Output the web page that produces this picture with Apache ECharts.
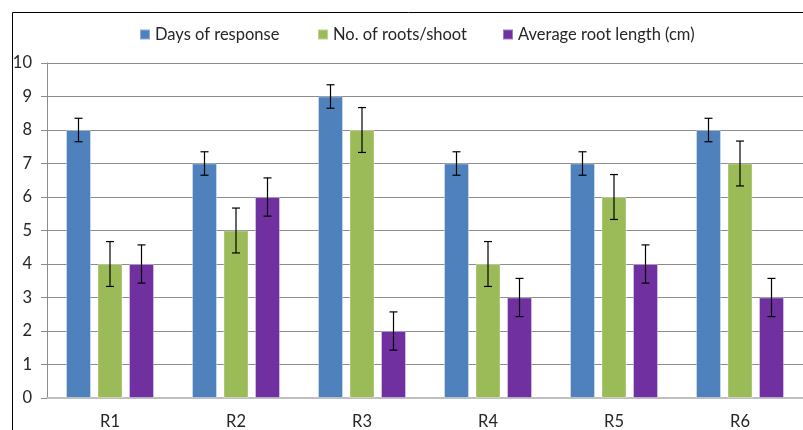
<!DOCTYPE html>
<html>
<head>
<meta charset="utf-8">
<script src="https://cdn.jsdelivr.net/npm/echarts@6/dist/echarts.min.js"></script>
<style>html,body{margin:0;padding:0;background:#fff;}#c{width:803px;height:430px;}</style>
</head>
<body>
<div id="c"></div>
<script>
const categories = ['R1', 'R2', 'R3', 'R4', 'R5', 'R6'];
const seriesNames = ['Days of response', 'No. of roots/shoot', 'Average root length (cm)'];
const daysOfResponse = [8, 7, 9, 7, 7, 8];
const rootsPerShoot = [4, 5, 8, 4, 6, 7];
const avgRootLength = [4, 6, 2, 3, 4, 3];
const daysErr = [0.35, 0.35, 0.35, 0.35, 0.35, 0.35];
const rootsErr = [0.67, 0.67, 0.67, 0.67, 0.67, 0.67];
const lengthErr = [0.57, 0.57, 0.57, 0.57, 0.57, 0.57];
const yTicks = [0, 1, 2, 3, 4, 5, 6, 7, 8, 9, 10];

const colors = ['#4F81BD', '#9BBB59', '#7030A0'];
const values = [daysOfResponse, rootsPerShoot, avgRootLength];
const errs = [daysErr, rootsErr, lengthErr];
const BAR_W = 25, BAR_GAP = 6.5;
const FONT = 'Lato';

const chart = echarts.init(document.getElementById('c'), null, {renderer: 'canvas'});

const series = [];
values.forEach((v, i) => {
  series.push({
    name: seriesNames[i], type: 'bar', data: v, barWidth: BAR_W, barGap: (BAR_GAP / BAR_W * 100) + '%',
    itemStyle: {color: colors[i], borderColor: 'rgba(255,255,255,0.35)', borderWidth: 1},
    z: 2
  });
});
values.forEach((v, i) => {
  const offset = (i - 1) * (BAR_W + BAR_GAP);
  series.push({
    type: 'custom', name: seriesNames[i] + ' err', z: 5, silent: true,
    data: v.map((val, k) => [k, val, errs[i][k]]),
    encode: {x: 0, y: 1},
    renderItem: function (params, api) {
      const c = api.value(0), val = api.value(1), e = api.value(2);
      const pTop = api.coord([c, val + e]);
      const pBot = api.coord([c, val - e]);
      const x = pTop[0] + offset;
      const cap = 4;
      const st = {stroke: '#000', lineWidth: 1.2};
      return {type: 'group', children: [
        {type: 'line', shape: {x1: x, y1: pTop[1], x2: x, y2: pBot[1]}, style: st},
        {type: 'line', shape: {x1: x - cap, y1: pTop[1], x2: x + cap, y2: pTop[1]}, style: st},
        {type: 'line', shape: {x1: x - cap, y1: pBot[1], x2: x + cap, y2: pBot[1]}, style: st}
      ]};
    }
  });
});

const legendLeft = [134, 312, 497];
const legends = seriesNames.map((n, i) => ({
  data: [n], left: legendLeft[i], top: 21, itemWidth: 10, itemHeight: 10, itemGap: 0,
  icon: 'rect', textStyle: {fontFamily: FONT, fontSize: 16.5, color: '#262626', padding: [0, 0, 0, 0]},
  selectedMode: false
}));

chart.setOption({
  animation: false,
  backgroundColor: '#fff',
  textStyle: {fontFamily: FONT},
  legend: legends,
  grid: {left: 47, top: 63, width: 759, height: 336, containLabel: false},
  xAxis: {
    type: 'category', data: categories,
    axisLine: {lineStyle: {color: '#bfbfbf', width: 2}},
    axisTick: {show: false},
    axisLabel: {fontFamily: FONT, fontSize: 16.5, color: '#262626', margin: 15}
  },
  yAxis: {
    type: 'value', min: yTicks[0], max: yTicks[yTicks.length - 1], interval: 1,
    axisLine: {show: true, lineStyle: {color: '#8c8c8c'}},
    axisTick: {show: true, length: 6, lineStyle: {color: '#8c8c8c'}},
    axisLabel: {fontFamily: FONT, fontSize: 16.5, color: '#262626', margin: 15},
    splitLine: {lineStyle: {color: '#8c8c8c'}}
  },
  graphic: [{
    type: 'rect', left: 10, top: 10, shape: {x: 0, y: 0, width: 800, height: 430},
    style: {fill: 'none', stroke: '#000', lineWidth: 1}, z: -1
  }],
  series: series
});
</script>
</body>
</html>
